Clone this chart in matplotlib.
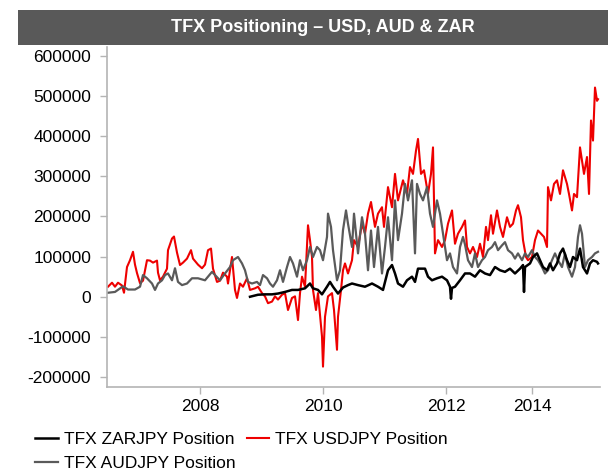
import matplotlib
matplotlib.use("Agg")
import matplotlib.pyplot as plt
from matplotlib.patches import Rectangle
import numpy as np

plt.rcParams['font.family'] = ['Liberation Sans', 'DejaVu Sans']

# x = weekly observation number since mid-2006, y = positions in thousands
usd_wk = [1, 5, 8, 11, 15, 17, 20, 23, 26, 28, 30, 33, 36, 40, 43, 46, 50, 51, 53, 56,
          60, 61, 65, 67, 70, 73, 76, 80, 84, 86, 91, 95, 98, 101, 104, 106, 110, 113, 116, 120,
          121, 125, 128, 130, 133, 136, 140, 143, 148, 151, 155, 158, 161, 165, 168, 171, 175, 178, 181, 185,
          188, 191, 193, 195, 198, 201, 203, 205, 206, 209, 211, 215, 216, 218, 221, 225, 227, 230, 231, 234,
          236, 238, 241, 245, 247, 251, 255, 258, 261, 264, 268, 271, 275, 277, 281, 285, 288, 291, 296, 300,
          303, 306, 309, 311, 314, 317, 321, 324, 326, 328, 331, 335, 338, 341, 345, 348, 351, 355, 358, 360,
          363, 366, 370, 373, 376, 379, 381, 384, 386, 390, 393, 396, 400, 403, 406, 409, 411, 414, 416, 419,
          421, 425, 428, 431, 434, 437, 440, 441, 444, 447, 450, 453, 456, 460, 462, 465, 467, 470, 473, 475,
          477, 480, 482, 484, 486, 488, 490, 491]
usd_pos = [25, 35, 25, 35, 28, 10, 74, 91, 112, 80, 59, 34, 40, 91, 90, 85, 90, 60, 41, 50,
           70, 116, 145, 150, 110, 79, 85, 95, 116, 95, 80, 71, 80, 116, 120, 70, 37, 40, 60, 50,
           33, 99, 17, -3, 33, 25, 46, 17, 21, 25, 9, 1, -16, -12, 1, -7, 5, 9, -33, -3,
           1, -58, 9, 50, 25, 178, 141, 99, 17, -33, 9, -99, -174, -50, 1, 9, -33, -132, -50, 17,
           66, 83, 58, 91, 141, 124, 182, 157, 207, 236, 174, 207, 223, 174, 273, 223, 306, 240, 290, 256,
           323, 306, 364, 393, 306, 315, 256, 306, 372, 108, 141, 124, 141, 182, 215, 132, 157, 174, 190, 124,
           108, 124, 99, 132, 99, 174, 141, 203, 157, 215, 174, 149, 198, 174, 182, 215, 228, 198, 141, 99,
           91, 99, 141, 165, 157, 149, 124, 273, 240, 281, 290, 256, 315, 281, 256, 215, 256, 248, 372, 339,
           306, 348, 256, 439, 389, 521, 488, 492]

aud_wk = [1, 8, 16, 21, 28, 33, 36, 40, 45, 48, 51, 55, 58, 61, 65, 68, 71, 75, 80, 85,
          91, 98, 105, 108, 113, 118, 123, 126, 131, 135, 138, 141, 145, 150, 153, 156, 160, 163, 166, 170,
          173, 176, 180, 183, 186, 190, 193, 196, 200, 203, 206, 210, 213, 216, 220, 221, 224, 226, 230, 233,
          236, 239, 241, 245, 247, 251, 255, 258, 261, 264, 267, 271, 275, 278, 281, 285, 288, 291, 295, 298,
          301, 305, 308, 310, 313, 316, 320, 323, 326, 330, 333, 336, 340, 343, 346, 350, 353, 356, 358, 361,
          365, 368, 371, 375, 378, 381, 385, 388, 391, 395, 398, 401, 405, 408, 411, 415, 418, 421, 425, 428,
          431, 435, 438, 441, 445, 448, 451, 455, 458, 461, 465, 468, 471, 473, 475, 478, 481, 485, 488, 491]
aud_pos = [10, 12, 26, 18, 18, 25, 54, 46, 33, 17, 33, 41, 54, 58, 41, 71, 37, 29, 33, 46,
           46, 41, 62, 54, 41, 58, 74, 91, 99, 83, 66, 37, 33, 37, 29, 54, 46, 33, 25, 41,
           66, 37, 74, 99, 83, 50, 91, 66, 91, 124, 99, 124, 116, 91, 149, 207, 174, 116, 41, 66,
           166, 215, 182, 124, 207, 108, 198, 157, 66, 165, 74, 174, 58, 124, 198, 91, 240, 141, 207, 281,
           240, 290, 108, 281, 256, 240, 273, 207, 174, 240, 207, 157, 91, 108, 74, 58, 124, 149, 130, 91,
           74, 108, 74, 91, 99, 116, 124, 136, 116, 128, 136, 116, 108, 95, 108, 91, 108, 99, 116, 99,
           91, 74, 58, 66, 91, 108, 91, 74, 108, 74, 50, 74, 149, 178, 157, 74, 91, 99, 108, 112]

zar_wk = [143, 151, 158, 165, 171, 178, 185, 191, 198, 203, 206, 211, 215, 220, 223, 226, 231, 236, 241, 245,
          251, 258, 265, 271, 276, 281, 285, 288, 291, 296, 300, 305, 308, 311, 318, 321, 325, 330, 335, 340,
          343, 344, 345, 348, 353, 358, 363, 368, 373, 378, 383, 388, 393, 398, 403, 408, 413, 416, 417, 418,
          423, 426, 430, 433, 436, 440, 443, 446, 450, 453, 456, 460, 463, 466, 470, 473, 476, 480, 483, 486,
          490, 491]
zar_pos = [0, 5, 6, 6, 8, 12, 17, 17, 21, 33, 21, 17, 6, 25, 37, 25, 8, 23, 29, 33,
           29, 25, 33, 25, 17, 66, 79, 58, 33, 25, 41, 50, 37, 70, 70, 50, 41, 46, 50, 41,
           25, -5, 22, 25, 41, 58, 58, 50, 66, 58, 54, 74, 66, 62, 70, 58, 70, 79, 12, 74,
           83, 99, 108, 91, 74, 66, 83, 66, 83, 108, 120, 91, 74, 99, 91, 120, 74, 58, 83, 91,
           87, 83]

year_wk = [93, 216, 339, 425]
year_labels = ["2008", "2010", "2012", "2014"]
y_ticks = [-200000, -100000, 0, 100000, 200000, 300000, 400000, 500000, 600000]

fig = plt.figure(figsize=(6.08, 4.72), dpi=100)
ax = fig.add_axes([107 / 608, 1 - 386.7 / 472, 493 / 608, (386.7 - 47) / 472])

ax.plot(zar_wk, np.array(zar_pos) * 1000, color="black", lw=1.8, label="TFX ZARJPY Position", zorder=3)
ax.plot(aud_wk, np.array(aud_pos) * 1000, color="#5a5a5a", lw=1.6, label="TFX AUDJPY Position", zorder=2)
ax.plot(usd_wk, np.array(usd_pos) * 1000, color="#ee0000", lw=1.5, label="TFX USDJPY Position", zorder=1)

ax.set_xlim(0, 493)
ax.set_ylim(-224000, 622000)
ax.set_yticks(y_ticks)
ax.set_yticklabels([str(v) for v in y_ticks])
ax.set_xticks(year_wk)
ax.set_xticklabels(year_labels)

for s in ["top", "right"]:
    ax.spines[s].set_visible(False)
for s in ["left", "bottom"]:
    ax.spines[s].set_color("#b4b4b4")
    ax.spines[s].set_linewidth(1.2)
ax.tick_params(axis="both", colors="#b4b4b4", length=5, width=1, labelcolor="black", labelsize=12.5)
ax.tick_params(axis="y", pad=6.5)
ax.tick_params(axis="x", pad=4)

# title banner
fig.patches.append(Rectangle((18 / 608, 1 - 45 / 472), 590 / 608, 35 / 472,
                             transform=fig.transFigure, facecolor="#595959", edgecolor="none"))
fig.text(323 / 608, 1 - 27.5 / 472, "TFX Positioning \u2013 USD, AUD & ZAR", color="white",
         fontsize=13, fontweight="bold", ha="center", va="center")

h, l = ax.get_legend_handles_labels()
fig.legend([h[0], h[1], h[2]], [l[0], l[1], l[2]], ncol=2, loc="upper left",
           bbox_to_anchor=(35 / 608, 1 - 432 / 472), frameon=False, fontsize=12.5,
           handlelength=1.3, handletextpad=0.35, columnspacing=0.65, labelspacing=0.5,
           borderpad=0, borderaxespad=0)

fig.savefig("out.png", dpi=100)
